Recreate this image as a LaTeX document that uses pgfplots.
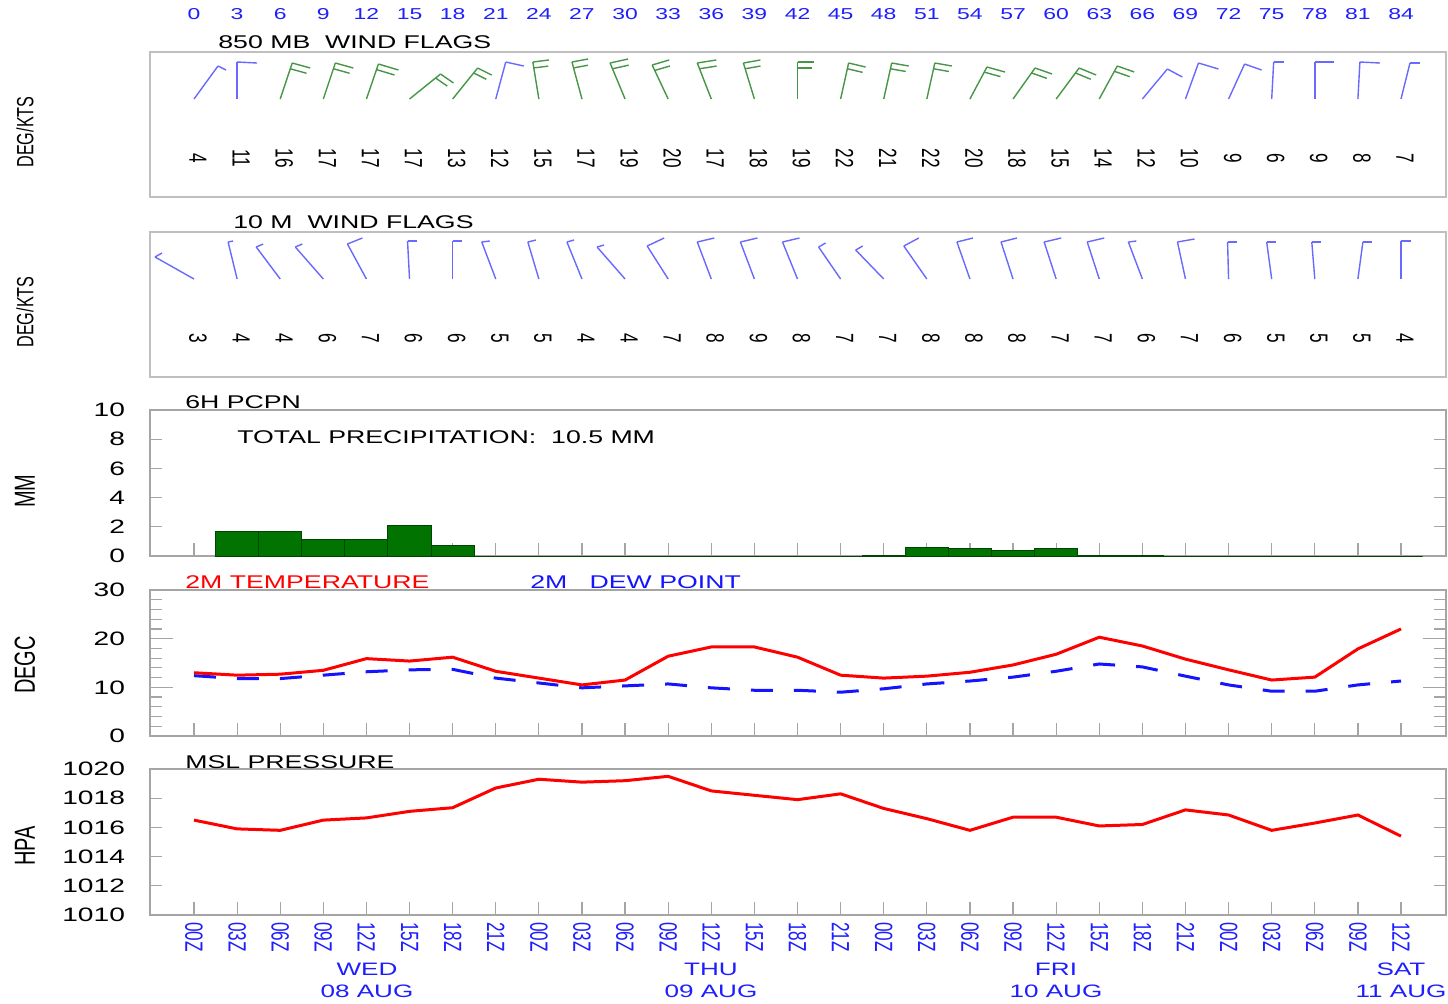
\documentclass[border=0pt]{standalone}
\usepackage{pgfplots}
\pgfplotsset{compat=1.18}
\usepackage{pgfplotstable}
\usepackage{graphicx}
\usepackage{fontspec}
\setmainfont{Liberation Sans}

\definecolor{tblue}{RGB}{30,30,255}
\definecolor{wblue}{RGB}{105,105,255}
\definecolor{wgreen}{RGB}{70,150,70}
\definecolor{pgreen}{RGB}{0,115,0}
\definecolor{frame}{RGB}{165,165,165}
\definecolor{dblue}{RGB}{20,20,255}

\newcommand\hs[1]{\scalebox{1.45}[1]{#1}}
\newcommand\vs[1]{\scalebox{1}[1.45]{#1}}
\newcommand\fs[1]{\fontsize{#1}{#1}\selectfont}

% 850 MB winds: h, staff (sx,sy) px, barb (bx,by) px
\pgfplotstableread{
h sx sy bx by
0 24 33 8 -4
3 0 37 20 -1
21 10 37 18 -4
66 25 30 15 -8
69 13 36 20 -6
72 16 35 17 -6
75 2 37 10 0
78 0 37 19 0
81 2 37 20 -1
84 9 36 10 0
}\wbA
\pgfplotstableread{
h sx sy bx by
6 12 36 18 -5
9 12 36 18 -5
12 12 35 20 -6
15 31 25 13 -9
18 25 31 14 -7
24 -6 37 16 2
27 -10 37 16 3
30 -15 36 18 4
33 -16 34 17 5
36 -14 36 19 3
39 -11 36 17 3
42 0 37 16 0
45 8 36 17 -4
48 8 36 17 -3
51 8 36 17 -3
54 17 32 18 -5
57 22 31 17 -6
60 23 31 17 -7
63 18 33 17 -6
}\wgA
\pgfplotstableread{
h s
0 4
3 11
6 16
9 17
12 17
15 17
18 13
21 12
24 15
27 17
30 19
33 20
36 17
39 18
42 19
45 22
48 21
51 22
54 20
57 18
60 15
63 14
66 12
69 10
72 9
75 6
78 9
81 8
84 7
}\spA
% 10 M winds
\pgfplotstableread{
h sx sy bx by
0 -39 22 7 4
3 -9 37 5 1
6 -24 32 7 3
9 -28 32 7 3
12 -19 35 15 6
15 -2 38 9 0
18 0 38 9 0
21 -14 37 8 1
24 -11 37 8 2
27 -15 37 7 2
30 -28 32 7 2
33 -21 33 17 8
36 -14 37 17 4
39 -14 37 17 4
42 -15 37 17 4
45 -22 32 7 4
48 -28 29 7 4
51 -23 33 15 8
54 -13 37 16 4
57 -12 37 16 4
60 -12 37 17 4
63 -12 37 17 4
66 -14 37 8 1
69 -8 37 17 3
72 -1 37 9 0
75 -5 37 9 0
78 -3 37 9 0
81 5 37 9 0
84 0 38 10 0
}\wbB
\pgfplotstableread{
h s
0 3
3 4
6 4
9 6
12 7
15 6
18 6
21 5
24 5
27 4
30 4
33 7
36 8
39 9
42 8
45 7
48 7
51 8
54 8
57 8
60 7
63 7
66 6
69 7
72 6
75 5
78 5
81 5
84 4
}\spB
% 6h precipitation
\pgfplotstableread{
h p
3 1.7
6 1.7
9 1.1
12 1.15
15 2.1
18 0.75
21 0
24 0
27 0
30 0
33 0
36 0
39 0
42 0
45 0
48 0.05
51 0.55
54 0.5
57 0.35
60 0.5
63 0.05
66 0.05
69 0
72 0
75 0
78 0
81 0
84 0
}\pcpn
% temperature and dew point
\pgfplotstableread{
h t d
0 13.0 12.4
3 12.5 11.8
6 12.7 11.8
9 13.5 12.5
12 15.9 13.2
15 15.4 13.6
18 16.2 13.7
21 13.3 11.9
24 11.9 10.9
27 10.5 9.9
30 11.5 10.3
33 16.4 10.7
36 18.3 9.9
39 18.3 9.4
42 16.2 9.4
45 12.5 9.0
48 11.9 9.7
51 12.3 10.7
54 13.1 11.3
57 14.6 12.1
60 16.8 13.3
63 20.3 14.8
66 18.5 14.2
69 15.8 12.3
72 13.6 10.5
75 11.5 9.2
78 12.1 9.2
81 17.9 10.5
84 22.0 11.3
}\temp
% MSL pressure
\pgfplotstableread{
h p
0 1016.5
3 1015.9
6 1015.8
9 1016.5
12 1016.65
15 1017.1
18 1017.35
21 1018.7
24 1019.3
27 1019.1
30 1019.2
33 1019.5
36 1018.5
39 1018.2
42 1017.9
45 1018.3
48 1017.3
51 1016.6
54 1015.8
57 1016.7
60 1016.7
63 1016.1
66 1016.2
69 1017.2
72 1016.85
75 1015.8
78 1016.3
81 1016.85
84 1015.4
}\pres

\pgfplotsset{
  panel/.style={anchor=north west, scale only axis, width=648pt,
    xmin=-3.062, xmax=87.13, clip=false,
    axis line style={draw=frame, line width=0.6pt},
    tick style={draw=frame, line width=0.6pt}, tick align=inside,
    xtick={0,3,...,84}, xtick pos=left, ytick pos=both, yticklabel pos=left,
    xtick style={/pgfplots/major tick length=6.5pt},
    major tick length=6pt, minor tick length=6pt,
    yticklabel shift=9pt,
    yticklabel style={font=\fs{9.7}, black},
  },
  wind/.style={panel, height=72.5pt, ymin=0, ymax=145, ytick=\empty,
    axis line style={draw=black!25, line width=0.6pt}},
  spd/.style={draw=none, no marks, point meta=explicit symbolic,
    nodes near coords={\vs{\pgfplotspointmeta}},
    every node near coord/.style={rotate=-90, anchor=center, font=\fs{8.6}, black, inner sep=0pt}},
}

\begin{document}
\begin{tikzpicture}
\useasboundingbox (0,0) rectangle (724pt,-501.5pt);

% ---------- 850 MB wind flags ----------
\begin{axis}[wind, at={(75pt,-26pt)},
  xtick pos=right, xticklabel pos=right, major tick length=0pt,
  xtick style={draw=none, /pgfplots/major tick length=0pt},
  xticklabel shift=12.5pt,
  xticklabel style={font=\fs{7.9}, tblue},
  xticklabels={\hs{0},\hs{3},\hs{6},\hs{9},\hs{12},\hs{15},\hs{18},\hs{21},\hs{24},\hs{27},\hs{30},\hs{33},\hs{36},\hs{39},\hs{42},\hs{45},\hs{48},\hs{51},\hs{54},\hs{57},\hs{60},\hs{63},\hs{66},\hs{69},\hs{72},\hs{75},\hs{78},\hs{81},\hs{84}}]
\addplot[wblue, line width=0.7pt, no marks, quiver={u={\thisrow{sx}/14.369}, v={\thisrow{sy}}}, -]
  table[x=h, y expr=98] {\wbA};
\addplot[wblue, line width=0.7pt, no marks, quiver={u={\thisrow{bx}/14.369}, v={\thisrow{by}}}, -]
  table[x expr=\thisrow{h}+\thisrow{sx}/14.369, y expr=98+\thisrow{sy}] {\wbA};
\addplot[wgreen, line width=0.7pt, no marks, quiver={u={\thisrow{sx}/14.369}, v={\thisrow{sy}}}, -]
  table[x=h, y expr=98] {\wgA};
\addplot[wgreen, line width=0.7pt, no marks, quiver={u={\thisrow{bx}/14.369}, v={\thisrow{by}}}, -]
  table[x expr=\thisrow{h}+\thisrow{sx}/14.369, y expr=98+\thisrow{sy}] {\wgA};
\addplot[wgreen, line width=0.7pt, no marks, quiver={u={0.9*\thisrow{bx}/14.369}, v={0.9*\thisrow{by}}}, -]
  table[x expr=\thisrow{h}+0.84*\thisrow{sx}/14.369, y expr=98+0.84*\thisrow{sy}] {\wgA};
\addplot[spd] table[x expr=\thisrow{h}+0.28, y expr=39, meta=s] {\spA};
\end{axis}

% ---------- 10 M wind flags ----------
\begin{axis}[wind, at={(75pt,-116pt)}, xtick=\empty]
\addplot[wblue, line width=0.7pt, no marks, quiver={u={\thisrow{sx}/14.369}, v={\thisrow{sy}}}, -]
  table[x=h, y expr=98] {\wbB};
\addplot[wblue, line width=0.7pt, no marks, quiver={u={\thisrow{bx}/14.369}, v={\thisrow{by}}}, -]
  table[x expr=\thisrow{h}+\thisrow{sx}/14.369, y expr=98+\thisrow{sy}] {\wbB};
\addplot[spd] table[x expr=\thisrow{h}+0.28, y expr=39, meta=s] {\spB};
\end{axis}

% ---------- 6H PCPN ----------
\begin{axis}[panel, at={(75pt,-205pt)}, height=73pt, ymin=0, ymax=10,
  ytick={0,2,...,10}, yticklabels={\hs{0},\hs{2},\hs{4},\hs{6},\hs{8},\hs{10}},
  xticklabels={}]
\addplot[ybar, bar width=3, fill=pgreen, draw=black!40!pgreen, line width=0.5pt] table[x=h, y=p] {\pcpn};
\end{axis}

% ---------- 2M temperature / dew point ----------
\begin{axis}[panel, at={(75pt,-295pt)}, height=73pt, ymin=0, ymax=30,
  ytick={0,10,20,30}, minor y tick num=4, major tick length=11.5pt,
  yticklabels={\hs{0},\hs{10},\hs{20},\hs{30}},
  xticklabels={}]
\addplot[dblue, line width=1.5pt, dash pattern=on 11pt off 10.5pt, no marks] table[x=h, y=d] {\temp};
\addplot[red, line width=1.5pt, no marks] table[x=h, y=t] {\temp};
\end{axis}

% ---------- MSL pressure ----------
\begin{axis}[panel, at={(75pt,-384.5pt)}, height=73pt, ymin=1010, ymax=1020,
  ytick={1010,1012,...,1020},
  yticklabels={\hs{1010},\hs{1012},\hs{1014},\hs{1016},\hs{1018},\hs{1020}},
  xticklabel style={rotate=-90, anchor=west, font=\fs{8.6}, tblue},
  xticklabels={\vs{00Z},\vs{03Z},\vs{06Z},\vs{09Z},\vs{12Z},\vs{15Z},\vs{18Z},\vs{21Z},
    \vs{00Z},\vs{03Z},\vs{06Z},\vs{09Z},\vs{12Z},\vs{15Z},\vs{18Z},\vs{21Z},
    \vs{00Z},\vs{03Z},\vs{06Z},\vs{09Z},\vs{12Z},\vs{15Z},\vs{18Z},\vs{21Z},
    \vs{00Z},\vs{03Z},\vs{06Z},\vs{09Z},\vs{12Z}}]
\addplot[red, line width=1.5pt, no marks] table[x=h, y=p] {\pres};
\end{axis}

% ---------- titles ----------
\node[anchor=base west, font=\fs{9.2}, inner sep=0pt] at (109pt,-24pt) {\hs{850 MB\ \ WIND FLAGS}};
\node[anchor=base west, font=\fs{9.2}, inner sep=0pt] at (116.5pt,-114pt) {\hs{10 M\ \ WIND FLAGS}};
\node[anchor=base west, font=\fs{9.2}, inner sep=0pt] at (92.5pt,-204pt) {\hs{6H PCPN}};
\node[anchor=base west, font=\fs{9.2}, inner sep=0pt] at (118.5pt,-221.5pt) {\hs{TOTAL PRECIPITATION:\ \ 10.5 MM}};
\node[anchor=base west, font=\fs{9.2}, inner sep=0pt, red] at (92.5pt,-294pt) {\hs{2M TEMPERATURE}};
\node[anchor=base west, font=\fs{9.2}, inner sep=0pt, dblue] at (265pt,-294pt) {\hs{2M\ \ \ DEW POINT}};
\node[anchor=base west, font=\fs{9.2}, inner sep=0pt] at (92.5pt,-384pt) {\hs{MSL PRESSURE}};

% ---------- axis labels ----------
\node[rotate=90, font=\fs{8.1}, inner sep=0pt] at (12.5pt,-66pt) {\vs{DEG/KTS}};
\node[rotate=90, font=\fs{8.1}, inner sep=0pt] at (12.5pt,-156pt) {\vs{DEG/KTS}};
\node[rotate=90, font=\fs{10}, inner sep=0pt] at (12.5pt,-245.5pt) {\vs{MM}};
\node[rotate=90, font=\fs{10}, inner sep=0pt] at (12.5pt,-332.5pt) {\vs{DEGC}};
\node[rotate=90, font=\fs{10}, inner sep=0pt] at (12.5pt,-423pt) {\vs{HPA}};

% ---------- day labels ----------
\foreach \xx/\da/\db in {183.5/WED/08 AUG, 355.5/THU/09 AUG, 528/FRI/10 AUG, 700.5/SAT/11 AUG}{
  \node[anchor=base, font=\fs{9}, tblue, inner sep=0pt] at (\xx pt,-487.5pt) {\hs{\da}};
  \node[anchor=base, font=\fs{9}, tblue, inner sep=0pt] at (\xx pt,-498.5pt) {\hs{\db}};
}
\end{tikzpicture}
\end{document}
